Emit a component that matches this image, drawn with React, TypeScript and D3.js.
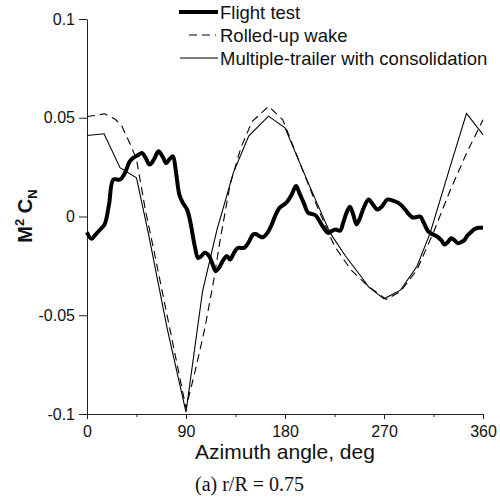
import React, { useEffect, useRef } from "react";
import * as d3 from "d3";

// flight test (thick line)
const flightAz = [
  0, 4, 8, 12, 16, 20, 24, 30, 34, 39, 42, 46, 50, 53, 57, 61, 65, 69, 72, 75,
  78, 81, 84, 87, 91, 94, 98, 101, 104, 107, 111, 114, 117, 120, 124, 127, 130,
  133, 137, 143, 147, 151, 154, 157, 160, 164, 168, 171, 175, 179, 182, 186,
  190, 193, 197, 201, 205, 208, 211, 215, 219, 222, 226, 230, 233, 236, 239,
  242, 245, 248, 252, 256, 260, 264, 268, 273, 278, 283, 287, 290, 293, 296,
  300, 303, 306, 310, 314, 318, 322, 325, 328, 331, 334, 337, 340, 343, 346,
  349, 352, 356, 360,
];
const flightCn = [
  -0.008, -0.0113, -0.009, -0.0066, -0.004, 0.006, 0.0187, 0.0187, 0.0215,
  0.028, 0.0297, 0.031, 0.0322, 0.03, 0.0263, 0.029, 0.033, 0.03, 0.027, 0.029,
  0.0305, 0.022, 0.011, 0.007, 0.0035, -0.003, -0.015, -0.021, -0.02, -0.0184,
  -0.02, -0.024, -0.0277, -0.026, -0.022, -0.02, -0.0218, -0.019, -0.016,
  -0.0158, -0.013, -0.0091, -0.009, -0.01, -0.0105, -0.0083, -0.004, 0.0002,
  0.0044, 0.006, 0.0075, 0.011, 0.0155, 0.012, 0.0069, 0.0019, 0.0012, 0.0005,
  -0.002, -0.0057, -0.0083, -0.0075, -0.0066, -0.0072, -0.003, 0.002, 0.005,
  0.001, -0.004, -0.001, 0.005, 0.0086, 0.006, 0.0035, 0.005, 0.0086, 0.008,
  0.0069, 0.005, 0.003, 0.001, -0.0005, -0.0003, 0.0, -0.003, -0.0074, -0.009,
  -0.01, -0.012, -0.0142, -0.013, -0.011, -0.012, -0.0135, -0.013, -0.012,
  -0.0095, -0.008, -0.0065, -0.0057, -0.0057,
];

// rolled-up wake (dashed)
const wakeAz = [
  0, 8, 16, 25, 31, 39, 45, 53, 60, 75, 90, 98, 107, 115, 121, 130, 140, 150,
  165, 178, 195, 210, 225, 240, 255, 272, 285, 300, 315, 330, 345, 360,
];
const wakeCn = [
  0.0506, 0.0512, 0.052, 0.0495, 0.0466, 0.037, 0.029, 0.0035, -0.015, -0.056,
  -0.097, -0.079, -0.057, -0.033, -0.012, 0.016, 0.035, 0.048, 0.0558, 0.049,
  0.025, 0.004, -0.015, -0.027, -0.035, -0.042, -0.038, -0.027, -0.008, 0.013,
  0.032, 0.049,
];

// multiple-trailer with consolidation (thin solid)
const trailerAz = [
  0, 15.5, 30, 45, 55.7, 73, 90, 105, 118, 133, 147, 165, 180, 195, 209, 221,
  235, 250, 256, 270, 285, 300, 312, 330, 345, 360,
];
const trailerCn = [
  0.041, 0.0419, 0.0247, 0.0196, -0.0083, -0.057, -0.099, -0.038, -0.007,
  0.0221, 0.0407, 0.0508, 0.0449, 0.025, 0.0069, -0.0083, -0.02, -0.031,
  -0.0356, -0.0417, -0.0373, -0.0252, -0.0083, 0.025, 0.0522, 0.0415,
];

const xTicks = [0, 90, 180, 270, 360];
const xMinorTicks = [45, 135, 225, 315];
const yTicks = [-0.1, -0.05, 0, 0.05, 0.1];

const legendLabels = [
  "Flight test",
  "Rolled-up wake",
  "Multiple-trailer with consolidation",
];

const App: React.FC = () => {
  const svgRef = useRef<SVGSVGElement | null>(null);

  useEffect(() => {
    if (!svgRef.current) return;
    const svg = d3.select(svgRef.current);
    svg.selectAll("*").remove();

    const width = 500;
    const height = 499;
    const margin = { top: 19, right: 17, bottom: 85, left: 87 };
    const innerWidth = width - margin.left - margin.right;
    const innerHeight = height - margin.top - margin.bottom;

    svg.attr("width", width).attr("height", height);
    const g = svg
      .append("g")
      .attr("transform", `translate(${margin.left},${margin.top})`);

    const x = d3.scaleLinear().domain([0, 360]).range([0, innerWidth]);
    const y = d3.scaleLinear().domain([-0.1, 0.1]).range([innerHeight, 0]);

    const font = "'Liberation Sans', Arial, sans-serif";

    // axes
    const yAxis = g
      .append("g")
      .call(
        d3
          .axisLeft(y)
          .tickValues(yTicks)
          .tickSize(8)
          .tickSizeOuter(0)
          .tickPadding(4)
          .tickFormat((d) => String(d))
      );
    const xAxis = g
      .append("g")
      .attr("transform", `translate(0,${innerHeight})`)
      .call(
        d3
          .axisBottom(x)
          .tickValues(xTicks)
          .tickSize(5)
          .tickSizeOuter(0)
          .tickPadding(7)
          .tickFormat((d) => String(d))
      );
    g.append("g")
      .attr("transform", `translate(0,${innerHeight})`)
      .call(
        d3
          .axisBottom(x)
          .tickValues(xMinorTicks)
          .tickSize(3)
          .tickSizeOuter(0)
          .tickFormat(() => "")
      )
      .select(".domain")
      .remove();

    [yAxis, xAxis].forEach((a) => {
      a.selectAll("text")
        .attr("fill", "#111")
        .style("font-family", font)
        .style("font-size", "16px");
      a.selectAll("line, path").attr("stroke", "#222");
    });
    g.selectAll(".tick line").attr("stroke", "#222");

    const clipId = "plotclip";
    svg
      .append("clipPath")
      .attr("id", clipId)
      .append("rect")
      .attr("x", margin.left)
      .attr("y", margin.top - 5)
      .attr("width", innerWidth + 3)
      .attr("height", innerHeight + 5);

    const plot = g.append("g");

    const lineLinear = d3
      .line<[number, number]>()
      .x((d) => x(d[0]))
      .y((d) => y(d[1]));
    const lineSmooth = d3
      .line<[number, number]>()
      .x((d) => x(d[0]))
      .y((d) => y(d[1]))
      .curve(d3.curveCatmullRom.alpha(0.5));

    const zip = (a: number[], b: number[]) =>
      a.map((v, i) => [v, b[i]] as [number, number]);

    plot
      .append("path")
      .datum(zip(wakeAz, wakeCn))
      .attr("d", lineLinear)
      .attr("fill", "none")
      .attr("stroke", "#000")
      .attr("stroke-width", 1.1)
      .attr("stroke-dasharray", "8,5");

    plot
      .append("path")
      .datum(zip(trailerAz, trailerCn))
      .attr("d", lineLinear)
      .attr("fill", "none")
      .attr("stroke", "#000")
      .attr("stroke-width", 1.1);

    plot
      .append("path")
      .datum(zip(flightAz, flightCn))
      .attr("d", lineSmooth)
      .attr("fill", "none")
      .attr("stroke", "#000")
      .attr("stroke-width", 4)
      .attr("stroke-linejoin", "round");

    // legend
    const legend = svg.append("g").attr("transform", "translate(0,0)");
    const legendStyles = [
      { w: 4, dash: null as string | null, x1: 179, x2: 218 },
      { w: 1.1, dash: "8,5", x1: 189, x2: 216 },
      { w: 1.1, dash: null as string | null, x1: 180, x2: 218 },
    ];
    legendLabels.forEach((label, i) => {
      const ly = 12 + i * 23;
      const s = legendStyles[i];
      const ln = legend
        .append("line")
        .attr("x1", s.x1)
        .attr("x2", s.x2)
        .attr("y1", ly)
        .attr("y2", ly)
        .attr("stroke", "#000")
        .attr("stroke-width", s.w);
      if (s.dash) ln.attr("stroke-dasharray", s.dash);
      legend
        .append("text")
        .attr("x", 220)
        .attr("y", ly + 7)
        .style("font-family", font)
        .style("font-size", "18.5px")
        .attr("fill", "#111")
        .text(label);
    });

    // axis titles
    svg
      .append("text")
      .attr("x", margin.left + innerWidth / 2)
      .attr("y", 459)
      .attr("text-anchor", "middle")
      .style("font-family", font)
      .style("font-size", "21px")
      .attr("fill", "#111")
      .text("Azimuth angle, deg");

    const yt = svg
      .append("text")
      .attr("transform", "translate(32,216) rotate(-90)")
      .attr("text-anchor", "middle")
      .style("font-family", font)
      .style("font-size", "20px")
      .style("font-weight", "bold")
      .attr("fill", "#111");
    yt.append("tspan").text("M");
    yt.append("tspan")
      .attr("dy", -8)
      .style("font-size", "13px")
      .text("2");
    yt.append("tspan").attr("dy", 8).text(" C");
    yt.append("tspan")
      .attr("dy", 5)
      .style("font-size", "13px")
      .text("N");

    svg
      .append("text")
      .attr("x", 195)
      .attr("y", 491)
      .style("font-family", "'Liberation Serif', 'Times New Roman', serif")
      .style("font-size", "20px")
      .attr("fill", "#111")
      .text("(a) r/R = 0.75");
  }, []);

  return (
    <svg
      ref={svgRef}
      style={{ position: "absolute", left: 0, top: 0, background: "#fff" }}
    ></svg>
  );
};

export default App;
